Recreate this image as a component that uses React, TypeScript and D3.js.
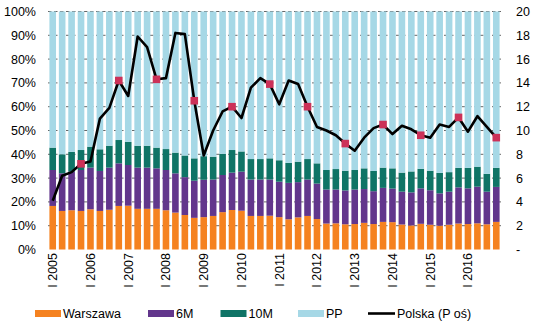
import React from "react";
import * as d3 from "d3";

const years = ["2005","2006","2007","2008","2009","2010","2011","2012","2013","2014","2015","2016"];
const quarters = years.flatMap((y) => ["I " + y, "II " + y, "III " + y, "IV " + y]);

const warszawa = [18.3,16.2,16.5,16.2,16.9,16.2,16.7,18.3,18.4,17.1,17.1,17.1,16.5,15.5,14.5,13.3,13.6,14.1,15.7,16.6,16.3,14.1,14.1,14.2,13.6,12.7,13.5,14.1,12.8,10.9,11.0,10.6,10.7,11.2,10.7,11.6,11.5,10.5,10.1,10.8,10.4,10.0,10.4,10.9,10.7,11.0,10.6,11.6];
const m6 = [15.1,15.8,16.2,17.2,17.5,16.8,17.7,17.9,17.1,17.3,17.3,17.0,16.9,16.5,15.9,15.6,15.7,15.3,15.6,15.7,16.4,15.3,15.3,15.2,14.9,15.3,14.8,15.3,14.9,14.3,14.2,14.2,14.5,14.2,13.8,14.3,14.1,13.8,13.9,14.9,14.5,13.6,13.9,15.2,15.0,15.4,13.7,14.7];
const m10 = [9.4,8.0,8.3,8.4,8.8,9.1,9.2,9.8,9.7,9.2,9.2,8.7,8.8,8.7,9.1,9.4,9.9,9.6,8.9,9.5,8.5,8.6,8.6,8.9,9.0,8.4,8.6,8.6,8.5,8.2,8.6,8.3,8.2,8.7,8.5,8.5,8.5,8.0,8.8,8.2,8.2,8.6,8.2,8.2,8.6,8.4,7.5,8.0];
const pp = warszawa.map((w, i) => +(100 - w - m6[i] - m10[i]).toFixed(1));
const polska = [4.1,6.2,6.5,7.2,7.4,11.0,11.9,14.2,12.9,17.9,17.0,14.3,14.4,18.2,18.1,12.5,7.9,10.0,11.6,12.0,11.05,13.6,14.4,13.9,12.2,14.2,13.9,12.0,10.3,10.0,9.6,8.9,8.3,9.4,10.2,10.5,9.7,10.4,10.1,9.6,9.4,10.5,10.3,11.1,9.9,11.2,10.3,9.4];

const leftTicks = [0,10,20,30,40,50,60,70,80,90,100];
const rightTicks = [0,2,4,6,8,10,12,14,16,18,20];

const seriesNames = ["Warszawa", "6M", "10M", "PP"];
const seriesData = [warszawa, m6, m10, pp];
const colors = ["#F58220", "#62368C", "#0F7466", "#A6D8E6"];
const lineColor = "#000000";
const markerColor = "#CC3158";

const W = 548, H = 326;
const font = "Arial, 'Liberation Sans', sans-serif";

export default function App() {
  const x = d3.scaleBand<number>().domain(d3.range(quarters.length)).range([48, 501]).paddingInner(0.3).paddingOuter(0.15);
  const yL = d3.scaleLinear().domain([0, 100]).range([249.5, 11.5]);
  const yR = d3.scaleLinear().domain([0, 20]).range([249.5, 11.5]);

  const table = quarters.map((q, i) => {
    const row: any = { q, i };
    seriesNames.forEach((s, k) => (row[s] = seriesData[k][i]));
    return row;
  });
  const stacked = d3.stack<any>().keys(seriesNames)(table);

  const line = d3.line<number>()
    .x((_, i) => (x(i) as number) + x.bandwidth() / 2)
    .y((v) => yR(v));

  const bw = x.bandwidth();

  const legend = [
    { label: "Warszawa", x: 35, color: colors[0] },
    { label: "6M", x: 148, color: colors[1] },
    { label: "10M", x: 220.5, color: colors[2] },
    { label: "PP", x: 298, color: colors[3] },
  ];

  return (
    <svg width={W} height={H} style={{ position: "absolute", left: 0, top: 0, background: "#fff" }} fontFamily={font}>
      {/* gridlines */}
      {leftTicks.slice(1).map((t) => (
        <line key={"g" + t} x1={48} x2={501} y1={yL(t)} y2={yL(t)} stroke="#404040" strokeWidth={0.8} strokeDasharray="3.5 2.5" />
      ))}
      {/* bars */}
      {stacked.map((layer, k) => (
        <g key={layer.key} fill={colors[k]}>
          {layer.map((d, i) => (
            <rect key={i} x={x(i)} y={yL(d[1])} width={bw} height={yL(d[0]) - yL(d[1])} />
          ))}
        </g>
      ))}
      {/* line */}
      <path d={line(polska) || ""} fill="none" stroke={lineColor} strokeWidth={2.6} strokeLinejoin="round" />
      {polska.map((v, i) =>
        i % 4 === 3 ? (
          <rect key={"m" + i} x={(x(i) as number) + bw / 2 - 3.8} y={yR(v) - 3.8} width={7.6} height={7.6} fill={markerColor} />
        ) : null
      )}
      {/* left axis */}
      {leftTicks.map((t) => (
        <text key={"l" + t} x={36} y={yL(t)} dy="0.36em" textAnchor="end" fontSize={12.5} fill="#000">
          {t + "%"}
        </text>
      ))}
      {/* right axis */}
      {rightTicks.map((t) => (
        <text key={"r" + t} x={516} y={yR(t)} dy="0.36em" textAnchor="start" fontSize={12.5} fill="#000">
          {t === 0 ? "-" : String(t)}
        </text>
      ))}
      {/* x labels */}
      {quarters.map((q, i) =>
        i % 4 === 0 ? (
          <text key={"x" + i} transform={`translate(${(x(i) as number) + bw / 2},253) rotate(-90)`} dy="0.36em" textAnchor="end" fontSize={12.5} fill="#000">
            {q}
          </text>
        ) : null
      )}
      {/* legend */}
      {legend.map((l) => (
        <g key={l.label}>
          <rect x={l.x} y={310} width={26} height={7} fill={l.color} />
          <text x={l.x + 28} y={313.5} dy="0.36em" fontSize={12.5} fill="#000">{l.label}</text>
        </g>
      ))}
      <line x1={368} x2={395} y1={313.5} y2={313.5} stroke={lineColor} strokeWidth={2.6} />
      <text x={397} y={313.5} dy="0.36em" fontSize={12.5} fill="#000">Polska (P oś)</text>
    </svg>
  );
}
